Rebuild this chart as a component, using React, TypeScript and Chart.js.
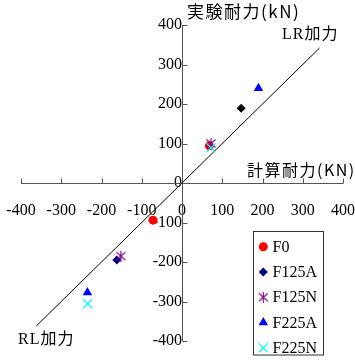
import React, { useEffect, useRef } from 'react';
import { Chart, registerables } from 'chart.js';
import { drawPoint } from 'chart.js/helpers';

Chart.register(...registerables);

// ---- data ----
const seriesNames = ['F0', 'F125A', 'F125N', 'F225A', 'F225N'];
const f0X = [68, -72];
const f0Y = [94, -94];
const f125aX = [147, -162];
const f125aY = [189, -195];
const f125nX = [72, -152];
const f125nY = [100, -185];
const f225aX = [190, -235];
const f225aY = [240, -277];
const f225nX = [72, -235];
const f225nY = [89, -306];
const refLineX = [-362, 342];
const refLineY = [-362, 342];
const tickValues = [-400, -300, -200, -100, 0, 100, 200, 300, 400];
const yTitle = '実験耐力(kN)';
const xTitle = '計算耐力(KN)';
const lrLabel = 'LR加力';
const rlLabel = 'RL加力';

const SERIF = "'Liberation Serif', 'Noto Sans CJK JP', serif";
const CJK = "'Noto Sans CJK JP', sans-serif";
const AXIS_COLOR = '#555555';

const pts = (xs: number[], ys: number[]) => xs.map((v, i) => ({ x: v, y: ys[i] }));

function makeStar(color: string): HTMLCanvasElement {
  const c = document.createElement('canvas');
  c.width = 11;
  c.height = 11;
  const g = c.getContext('2d')!;
  g.strokeStyle = color;
  g.lineWidth = 1.1;
  g.beginPath();
  g.moveTo(1, 1.5);
  g.lineTo(10, 9.5);
  g.moveTo(10, 1.5);
  g.lineTo(1, 9.5);
  g.moveTo(5.5, 0);
  g.lineTo(5.5, 11);
  g.stroke();
  return c;
}

const zeroPad = (s: any) => {
  s.paddingLeft = 0;
  s.paddingRight = 0;
  s.paddingTop = 0;
  s.paddingBottom = 0;
};

const overlay = {
  id: 'overlay',
  beforeDatasetsDraw(chart: any) {
    const { ctx, scales } = chart;
    const xs = scales.x;
    const ys = scales.y;
    const x0 = Math.round(xs.getPixelForValue(0)) + 0.5;
    const y0 = Math.round(ys.getPixelForValue(0)) + 0.5;
    ctx.save();
    ctx.strokeStyle = AXIS_COLOR;
    ctx.lineWidth = 1;
    ctx.beginPath();
    ctx.moveTo(xs.getPixelForValue(tickValues[0]), y0);
    ctx.lineTo(xs.getPixelForValue(tickValues[tickValues.length - 1]), y0);
    ctx.moveTo(x0, ys.getPixelForValue(tickValues[tickValues.length - 1]));
    ctx.lineTo(x0, ys.getPixelForValue(tickValues[0]));
    tickValues.forEach((v) => {
      const px = Math.round(xs.getPixelForValue(v)) + 0.5;
      ctx.moveTo(px, y0);
      ctx.lineTo(px, y0 - 5);
      const py = Math.round(ys.getPixelForValue(v)) + 0.5;
      ctx.moveTo(x0, py);
      ctx.lineTo(x0 + 5, py);
    });
    ctx.stroke();
    ctx.restore();
  },
  afterDraw(chart: any) {
    const { ctx } = chart;
    ctx.save();
    ctx.fillStyle = '#000';
    ctx.textBaseline = 'middle';
    ctx.textAlign = 'left';
    ctx.font = `17px ${CJK}`;
    (ctx as any).letterSpacing = '1.5px';
    ctx.fillText(yTitle, 187, 12);
    ctx.font = `16px ${CJK}`;
    (ctx as any).letterSpacing = '1.5px';
    ctx.fillText(xTitle, 247, 170);
    ctx.font = `16px ${SERIF}`;
    (ctx as any).letterSpacing = '1px';
    ctx.fillText(lrLabel, 282, 35);
    ctx.fillText(rlLabel, 18, 340);
    (ctx as any).letterSpacing = '0px';

    // legend
    const bx = 253.5, by = 231.5, bw = 70, bh = 123.5;
    ctx.fillStyle = '#ffffff';
    ctx.fillRect(bx, by, bw, bh);
    ctx.strokeStyle = '#333333';
    ctx.lineWidth = 1;
    ctx.strokeRect(bx, by, bw, bh);
    const items = chart.data.datasets.filter((d: any) => d.inLegend);
    items.forEach((d: any, i: number) => {
      const cy = 246.7 + i * 25.25;
      ctx.fillStyle = d.backgroundColor;
      ctx.strokeStyle = d.borderColor;
      ctx.lineWidth = d.borderWidth;
      drawPoint(ctx, { pointStyle: d.pointStyle, radius: d.pointRadius, rotation: 0, borderWidth: d.borderWidth }, 263.3, cy);
      ctx.fillStyle = '#000';
      ctx.font = `16px ${SERIF}`;
      ctx.textAlign = 'left';
      ctx.textBaseline = 'middle';
      ctx.fillText(d.label, 272.5, cy + 1);
    });
    ctx.restore();
  },
};

export default function App() {
  const ref = useRef<HTMLCanvasElement>(null);
  useEffect(() => {
    document.body.style.margin = '0';
    const star = makeStar('#800080');
    const chart = new Chart(ref.current!, {
      type: 'scatter',
      data: {
        datasets: [
          {
            label: 'ref',
            type: 'line',
            data: pts(refLineX, refLineY),
            borderColor: '#000',
            borderWidth: 1,
            pointRadius: 0,
            showLine: true,
            order: 10,
          } as any,
          {
            label: seriesNames[0],
            inLegend: true,
            data: pts(f0X, f0Y),
            pointStyle: 'circle',
            pointRadius: 4.5,
            backgroundColor: '#ff0000',
            borderColor: '#ff0000',
            borderWidth: 0,
            order: 5,
          },
          {
            label: seriesNames[1],
            inLegend: true,
            data: pts(f125aX, f125aY),
            pointStyle: 'rectRot',
            pointRadius: 4.5,
            backgroundColor: '#000080',
            pointBackgroundColor: ['#000000', '#000080'],
            borderColor: '#000080',
            borderWidth: 0,
            order: 4,
          },
          {
            label: seriesNames[2],
            inLegend: true,
            data: pts(f125nX, f125nY),
            pointStyle: star,
            pointRadius: 5.5,
            backgroundColor: '#800080',
            borderColor: '#800080',
            borderWidth: 0,
            order: 3,
          },
          {
            label: seriesNames[3],
            inLegend: true,
            data: pts(f225aX, f225aY),
            pointStyle: 'triangle',
            pointRadius: 5.5,
            backgroundColor: '#0000ff',
            borderColor: '#0000ff',
            borderWidth: 0,
            order: 2,
          },
          {
            label: seriesNames[4],
            inLegend: true,
            data: pts(f225nX, f225nY),
            pointStyle: 'crossRot',
            pointRadius: 6.5,
            backgroundColor: '#00ffff',
            borderColor: '#00ffff',
            borderWidth: 1.2,
            order: 1,
          },
        ] as any,
      },
      options: {
        animation: false,
        responsive: false,
        devicePixelRatio: 1,
        layout: { padding: { left: 21, right: 12, top: 25, bottom: 19 } },
        plugins: { legend: { display: false }, tooltip: { enabled: false } },
        scales: {
          x: {
            type: 'linear',
            min: -400,
            max: 400,
            position: { y: 0 } as any,
            grid: { display: false },
            border: { display: false },
            afterBuildTicks: (s: any) => { s.ticks = tickValues.map((v) => ({ value: v })); },
            afterFit: zeroPad,
            ticks: {
              autoSkip: false,
              maxRotation: 0,
              padding: 10,
              color: '#000',
              font: { family: SERIF, size: 16 },
            },
          },
          y: {
            type: 'linear',
            min: -400,
            max: 400,
            position: { x: 0 } as any,
            grid: { display: false },
            border: { display: false },
            afterBuildTicks: (s: any) => { s.ticks = tickValues.map((v) => ({ value: v })); },
            afterFit: zeroPad,
            ticks: {
              autoSkip: false,
              padding: 11,
              color: '#000',
              font: { family: SERIF, size: 16 },
            },
          },
        },
      },
      plugins: [overlay],
    });
    return () => chart.destroy();
  }, []);
  return <canvas ref={ref} width={355} height={360} style={{ display: 'block' }} />;
}
